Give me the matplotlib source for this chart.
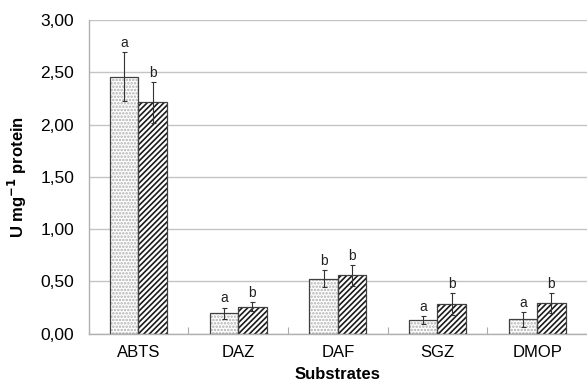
import matplotlib
matplotlib.use('Agg')
import matplotlib.pyplot as plt
from matplotlib.ticker import FuncFormatter, FixedLocator
import numpy as np

# Data
substrates = ['ABTS', 'DAZ', 'DAF', 'SGZ', 'DMOP']
dotted_vals = [2.46, 0.195, 0.525, 0.128, 0.137]
dotted_err = [0.235, 0.055, 0.08, 0.04, 0.072]
dotted_letters = ['a', 'a', 'b', 'a', 'a']
hatched_vals = [2.215, 0.258, 0.558, 0.285, 0.293]
hatched_err = [0.195, 0.045, 0.10, 0.105, 0.095]
hatched_letters = ['b', 'b', 'b', 'b', 'b']

plt.rcParams['font.family'] = ['Liberation Sans', 'DejaVu Sans']
plt.rcParams['hatch.linewidth'] = 1.2

fig = plt.figure(figsize=(5.87, 3.88), dpi=100)
ax = fig.add_axes([0.151, 0.14, 0.849, 0.808])

x = np.arange(len(substrates))
w = 0.285

# Dotted bars: light grey dots, dark outline drawn on top
ax.bar(x - w / 2, dotted_vals, w, color='white', edgecolor='#b0b0b0',
       hatch='.....', linewidth=0, zorder=2)
ax.bar(x - w / 2, dotted_vals, w, color='none', edgecolor='#404040',
       linewidth=0.9, zorder=3)
# Hatched bars
ax.bar(x + w / 2, hatched_vals, w, color='white', edgecolor='#1a1a1a',
       hatch='//////', linewidth=0, zorder=2)
ax.bar(x + w / 2, hatched_vals, w, color='none', edgecolor='#404040',
       linewidth=0.9, zorder=3)

ax.errorbar(x - w / 2, dotted_vals, yerr=dotted_err, fmt='none',
            ecolor='#333333', elinewidth=0.8, capsize=1.8, capthick=0.8, zorder=4)
ax.errorbar(x + w / 2, hatched_vals, yerr=hatched_err, fmt='none',
            ecolor='#333333', elinewidth=0.8, capsize=1.8, capthick=0.8, zorder=4)

for i in range(len(substrates)):
    ax.annotate(dotted_letters[i], (x[i] - w / 2, dotted_vals[i] + dotted_err[i]),
                xytext=(0, 1.5), textcoords='offset points', ha='center', va='bottom',
                fontsize=10, color='#222222')
    ax.annotate(hatched_letters[i], (x[i] + w / 2, hatched_vals[i] + hatched_err[i]),
                xytext=(0, 1.5), textcoords='offset points', ha='center', va='bottom',
                fontsize=10, color='#222222')

ax.set_xlim(-0.5, len(substrates) - 0.5)
ax.set_ylim(0, 3.0)
ax.set_yticks(np.arange(0, 3.01, 0.5))
ax.yaxis.set_major_formatter(FuncFormatter(lambda v, p: ('%.2f' % v).replace('.', ',')))
ax.set_xticks(x)
ax.set_xticklabels(substrates)
ax.xaxis.set_minor_locator(FixedLocator(np.arange(0.5, len(substrates) - 0.5, 1)))

ax.tick_params(axis='y', length=0, pad=10.5, labelsize=12.5)
ax.tick_params(axis='x', which='major', length=0, pad=8.5, labelsize=12)
ax.tick_params(axis='x', which='minor', direction='in', length=5, width=0.8, color='#aaaaaa')

ax.grid(axis='y', color='#c4c4c4', linewidth=1.0, zorder=0)
ax.set_axisbelow(True)
for s in ['top', 'right']:
    ax.spines[s].set_visible(False)
ax.spines['left'].set_color('#b0b0b0')
ax.spines['bottom'].set_color('#b0b0b0')
ax.spines['left'].set_linewidth(1.0)
ax.spines['bottom'].set_linewidth(1.0)

ax.set_ylabel('U mg$^{\\mathbf{-1}}$ protein', fontsize=12, fontweight='bold', labelpad=8)
ax.set_xlabel('Substrates', fontsize=12, fontweight='bold', labelpad=5)

fig.savefig('out.png', dpi=100)
